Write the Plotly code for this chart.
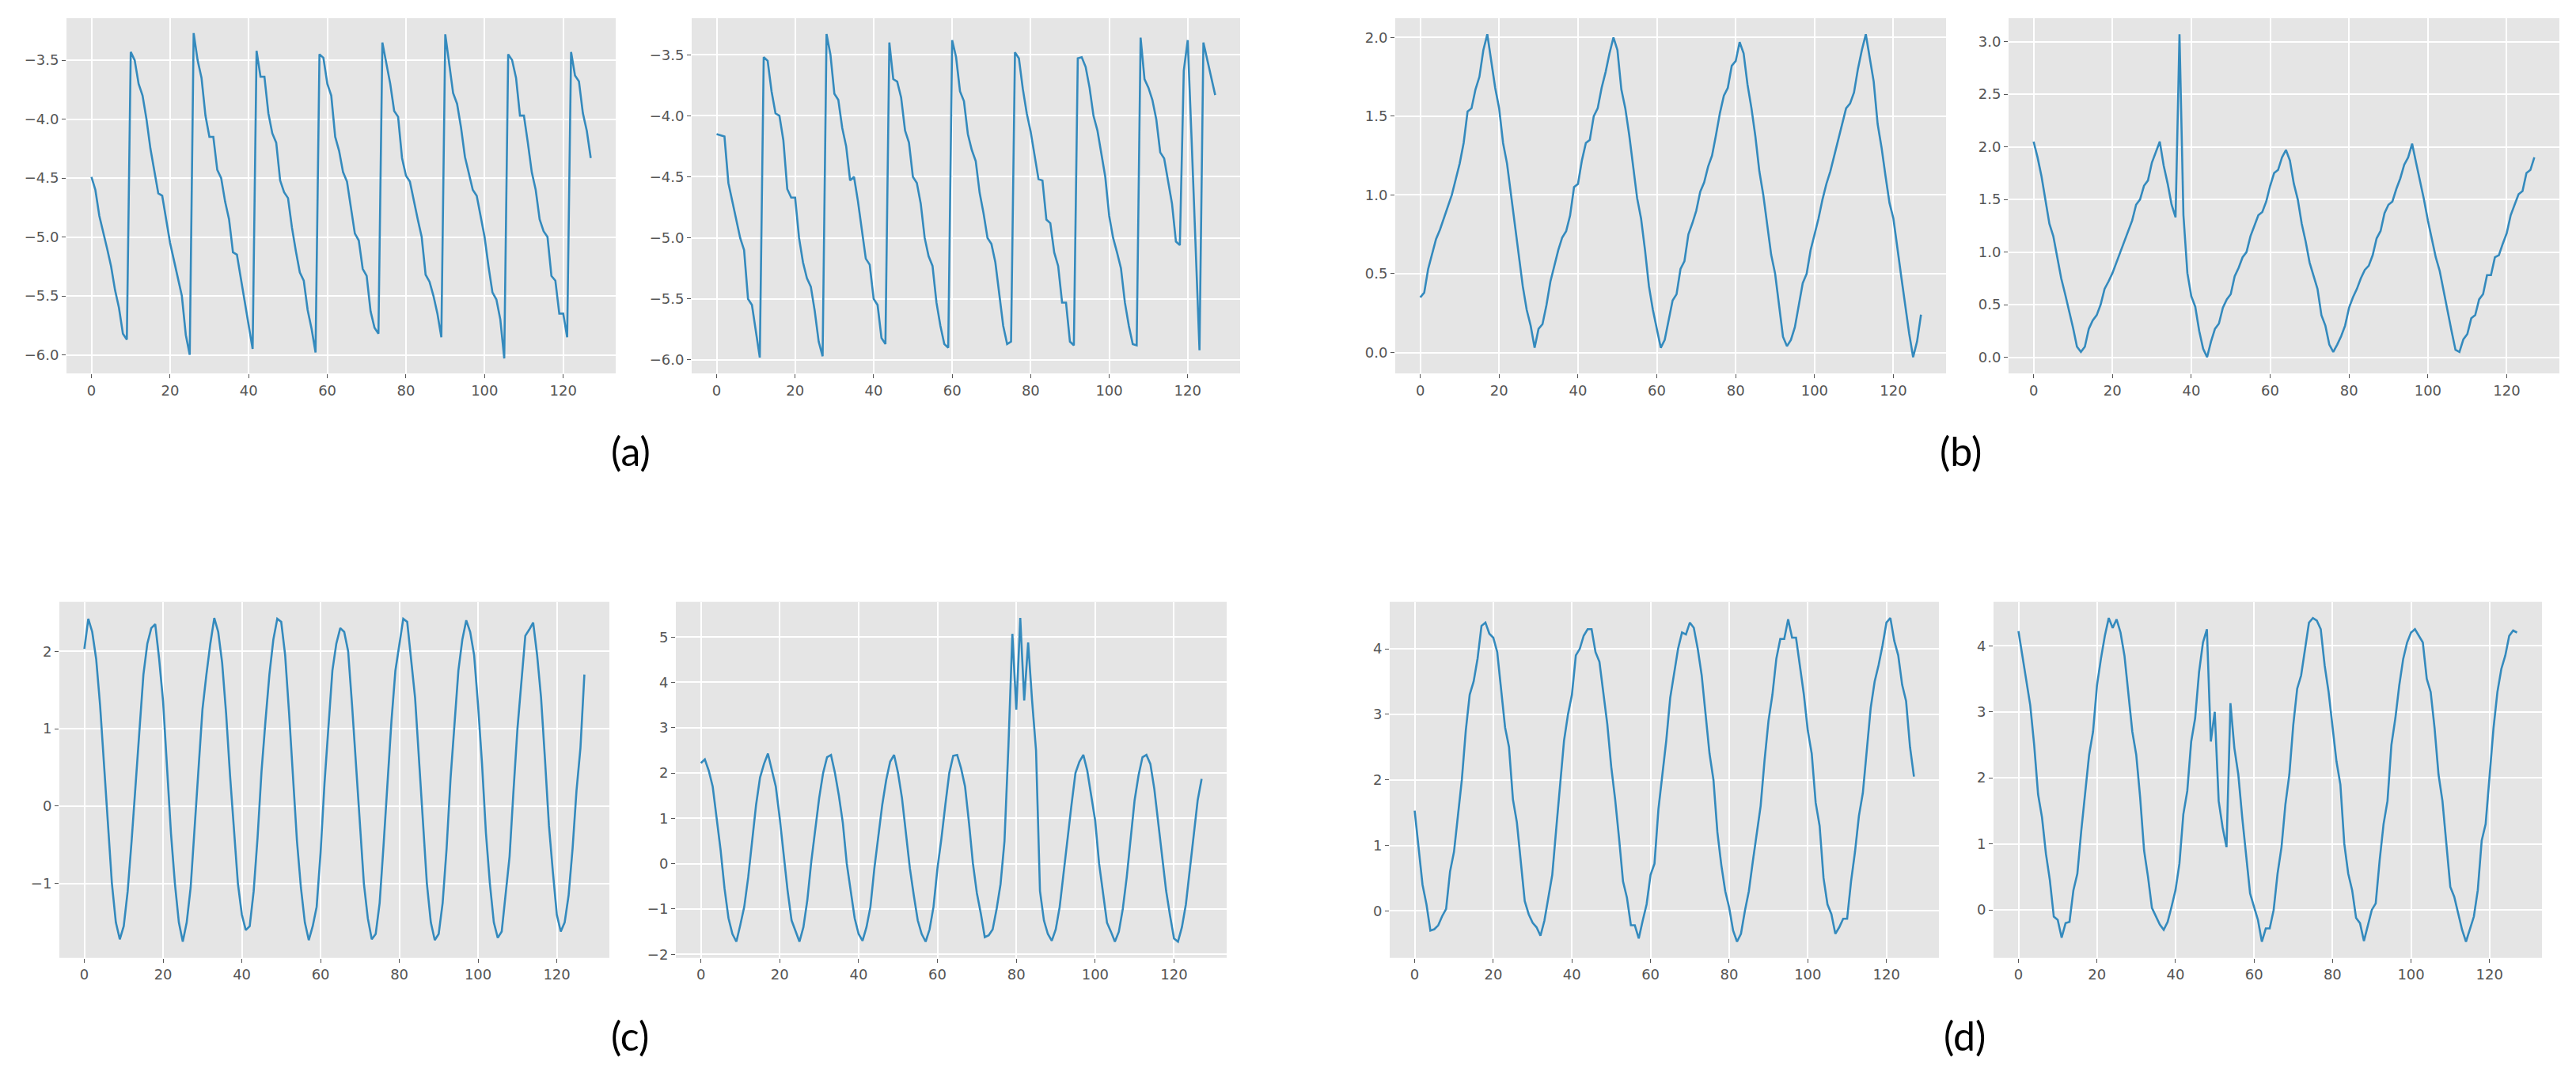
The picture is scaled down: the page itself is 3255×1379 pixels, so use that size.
import plotly.graph_objects as go

steps = list(range(128))

a_left = [-4.49, -4.6, -4.82, -4.95, -5.1, -5.25, -5.45, -5.6, -5.82, -5.87,
          -3.43, -3.5, -3.7, -3.8, -4.0, -4.25, -4.45, -4.63, -4.65, -4.85,
          -5.05, -5.2, -5.35, -5.5, -5.83, -6.0, -3.27, -3.5, -3.65, -3.97,
          -4.15, -4.15, -4.43, -4.5, -4.7, -4.85, -5.13, -5.15, -5.35, -5.55,
          -5.72, -5.95, -3.42, -3.64, -3.64, -3.95, -4.12, -4.2, -4.52, -4.62,
          -4.67, -4.92, -5.12, -5.3, -5.37, -5.62, -5.78, -5.98, -3.45, -3.48,
          -3.7, -3.8, -4.15, -4.27, -4.45, -4.53, -4.75, -4.97, -5.03, -5.27,
          -5.33, -5.63, -5.77, -5.82, -3.35, -3.52, -3.7, -3.93, -3.98, -4.33,
          -4.48, -4.53, -4.7, -4.85, -5.0, -5.32, -5.38, -5.5, -5.65, -5.85,
          -3.28, -3.53, -3.78, -3.87, -4.07, -4.32, -4.45, -4.6, -4.65, -4.83,
          -5.0, -5.25, -5.47, -5.53, -5.7, -6.03, -3.45, -3.5, -3.65, -3.97,
          -3.97, -4.2, -4.45, -4.6, -4.85, -4.95, -5.0, -5.33, -5.37, -5.65,
          -5.65, -5.85, -3.43, -3.63, -3.68, -3.95, -4.1, -4.33]

a_right = [-4.15, -4.16, -4.17, -4.55, -4.7, -4.85, -5.0, -5.1, -5.5, -5.55,
           -5.75, -5.98, -3.52, -3.55, -3.8, -3.98, -4.0, -4.2, -4.6, -4.67,
           -4.67, -5.0, -5.2, -5.33, -5.4, -5.6, -5.85, -5.97, -3.33, -3.5,
           -3.82, -3.87, -4.1, -4.25, -4.53, -4.5, -4.7, -4.95, -5.17, -5.22,
           -5.5, -5.55, -5.82, -5.87, -3.4, -3.7, -3.72, -3.85, -4.12, -4.22,
           -4.5, -4.55, -4.72, -5.0, -5.15, -5.23, -5.53, -5.72, -5.87, -5.9,
           -3.38, -3.52, -3.8, -3.88, -4.15, -4.28, -4.37, -4.63, -4.8, -5.0,
           -5.05, -5.2, -5.47, -5.72, -5.87, -5.85, -3.48, -3.53, -3.78, -3.98,
           -4.13, -4.33, -4.52, -4.53, -4.85, -4.88, -5.12, -5.23, -5.53, -5.53,
           -5.85, -5.88, -3.53, -3.52, -3.6, -3.77, -4.0, -4.12, -4.3, -4.5,
           -4.82, -5.0, -5.12, -5.25, -5.53, -5.72, -5.87, -5.88, -3.36, -3.7,
           -3.77, -3.87, -4.03, -4.3, -4.35, -4.55, -4.72, -5.03, -5.06, -3.63,
           -3.38, -4.2, -5.1, -5.92, -3.4, -3.55, -3.7, -3.83]

b_left = [0.35, 0.38, 0.53, 0.63, 0.72, 0.78, 0.85, 0.93, 1.0, 1.1,
          1.2, 1.33, 1.53, 1.55, 1.67, 1.75, 1.92, 2.02, 1.85, 1.68,
          1.55, 1.33, 1.2, 1.0, 0.8, 0.6, 0.42, 0.27, 0.17, 0.03,
          0.15, 0.18, 0.3, 0.45, 0.55, 0.65, 0.73, 0.77, 0.87, 1.05,
          1.07, 1.22, 1.33, 1.35, 1.5, 1.55, 1.68, 1.78, 1.9, 2.0,
          1.92, 1.67, 1.55, 1.38, 1.18, 0.98, 0.85, 0.65, 0.42, 0.27,
          0.15, 0.03, 0.08, 0.2, 0.33, 0.37, 0.53, 0.58, 0.75, 0.82,
          0.9, 1.02, 1.08, 1.18, 1.25, 1.38, 1.52, 1.63, 1.68, 1.82,
          1.85, 1.97, 1.9, 1.7, 1.55, 1.37, 1.15, 1.0, 0.82, 0.62,
          0.5, 0.3, 0.1, 0.04, 0.08, 0.16, 0.3, 0.44, 0.5, 0.65,
          0.75, 0.85, 0.97, 1.07, 1.15, 1.25, 1.35, 1.45, 1.55, 1.58,
          1.65, 1.8, 1.92, 2.02, 1.88, 1.72, 1.45, 1.3, 1.12, 0.95,
          0.85, 0.65, 0.48, 0.3, 0.12, -0.03, 0.07, 0.24]

b_right = [2.05, 1.9, 1.72, 1.48, 1.27, 1.15, 0.95, 0.75, 0.6, 0.45,
           0.28, 0.1, 0.05, 0.1, 0.27, 0.35, 0.4, 0.5, 0.65, 0.72,
           0.8, 0.9, 1.0, 1.1, 1.2, 1.3, 1.45, 1.5, 1.63, 1.68,
           1.85, 1.95, 2.05, 1.82, 1.65, 1.45, 1.33, 3.07, 1.35, 0.8,
           0.58, 0.48, 0.25, 0.08, 0.0, 0.15, 0.27, 0.32, 0.47, 0.55,
           0.6, 0.77, 0.85, 0.95, 1.0, 1.15, 1.25, 1.35, 1.38, 1.48,
           1.63, 1.75, 1.78, 1.9, 1.97, 1.87, 1.65, 1.5, 1.27, 1.1,
           0.9, 0.78, 0.65, 0.4, 0.3, 0.12, 0.05, 0.12, 0.2, 0.3,
           0.47, 0.57, 0.65, 0.75, 0.83, 0.87, 0.97, 1.13, 1.2, 1.37,
           1.45, 1.48, 1.6, 1.7, 1.83, 1.9, 2.03, 1.85, 1.68, 1.5,
           1.3, 1.12, 0.95, 0.82, 0.62, 0.45, 0.25, 0.07, 0.05, 0.17,
           0.22, 0.37, 0.4, 0.55, 0.6, 0.78, 0.78, 0.95, 0.97, 1.08,
           1.18, 1.35, 1.45, 1.55, 1.58, 1.75, 1.78, 1.9]

c_left = [2.03, 2.42, 2.25, 1.9, 1.3, 0.5, -0.3, -1.0, -1.5, -1.72,
          -1.55, -1.1, -0.45, 0.3, 1.05, 1.7, 2.1, 2.3, 2.35, 1.9,
          1.35, 0.5, -0.35, -1.0, -1.5, -1.75, -1.5, -1.05, -0.3, 0.5,
          1.25, 1.7, 2.1, 2.43, 2.25, 1.85, 1.2, 0.4, -0.35, -1.0,
          -1.4, -1.6, -1.55, -1.1, -0.4, 0.45, 1.1, 1.7, 2.15, 2.42,
          2.38, 1.95, 1.2, 0.4, -0.45, -1.05, -1.5, -1.73, -1.55, -1.3,
          -0.6, 0.3, 1.05, 1.75, 2.1, 2.3, 2.25, 2.0, 1.3, 0.5,
          -0.3, -1.0, -1.45, -1.72, -1.65, -1.25, -0.5, 0.3, 1.1, 1.75,
          2.1, 2.42, 2.38, 1.9, 1.4, 0.6, -0.25, -1.0, -1.5, -1.73,
          -1.65, -1.25, -0.55, 0.35, 1.05, 1.75, 2.15, 2.4, 2.25, 1.95,
          1.3, 0.55, -0.35, -1.0, -1.5, -1.7, -1.62, -1.15, -0.65, 0.2,
          1.0, 1.6, 2.2, 2.28, 2.37, 1.95, 1.4, 0.6, -0.25, -0.85,
          -1.4, -1.62, -1.5, -1.15, -0.55, 0.2, 0.75, 1.7]

c_right = [2.22, 2.3, 2.05, 1.7, 1.0, 0.3, -0.55, -1.2, -1.55, -1.72,
           -1.35, -0.95, -0.3, 0.5, 1.3, 1.9, 2.2, 2.43, 2.05, 1.7,
           1.0, 0.2, -0.6, -1.25, -1.5, -1.72, -1.4, -0.8, 0.05, 0.8,
           1.45, 2.0, 2.35, 2.4, 2.0, 1.5, 0.9, 0.0, -0.6, -1.2,
           -1.55, -1.7, -1.4, -0.95, -0.1, 0.6, 1.3, 1.85, 2.25, 2.4,
           2.0, 1.45, 0.7, -0.1, -0.7, -1.25, -1.55, -1.72, -1.45, -0.95,
           -0.1, 0.55, 1.3, 2.0, 2.38, 2.4, 2.1, 1.7, 0.9, 0.0,
           -0.65, -1.1, -1.62, -1.58, -1.45, -1.0, -0.45, 0.5, 2.6, 5.07,
           3.4, 5.42, 3.6, 4.88, 3.6, 2.5, -0.6, -1.25, -1.55, -1.7,
           -1.45, -0.95, -0.2, 0.6, 1.3, 2.0, 2.25, 2.4, 2.05, 1.5,
           0.95, 0.0, -0.65, -1.3, -1.5, -1.72, -1.5, -1.0, -0.3, 0.5,
           1.4, 1.95, 2.35, 2.4, 2.2, 1.65, 0.9, 0.1, -0.6, -1.15,
           -1.65, -1.72, -1.4, -0.9, -0.1, 0.7, 1.4, 1.87]

d_left = [1.53, 1.0, 0.4, 0.1, -0.3, -0.28, -0.22, -0.08, 0.03, 0.6,
          0.9, 1.45, 2.0, 2.75, 3.3, 3.5, 3.85, 4.35, 4.4, 4.23,
          4.17, 3.95, 3.4, 2.8, 2.5, 1.7, 1.35, 0.75, 0.15, -0.05,
          -0.18, -0.25, -0.38, -0.15, 0.2, 0.55, 1.25, 1.95, 2.6, 3.0,
          3.3, 3.9, 4.0, 4.2, 4.3, 4.3, 3.95, 3.8, 3.35, 2.85,
          2.2, 1.7, 1.1, 0.45, 0.2, -0.22, -0.22, -0.42, -0.15, 0.1,
          0.55, 0.72, 1.55, 2.1, 2.6, 3.25, 3.65, 4.0, 4.25, 4.22,
          4.4, 4.32, 4.0, 3.6, 3.0, 2.4, 2.0, 1.2, 0.7, 0.3,
          0.05, -0.3, -0.47, -0.35, 0.0, 0.3, 0.75, 1.2, 1.6, 2.3,
          2.9, 3.3, 3.85, 4.15, 4.15, 4.45, 4.17, 4.17, 3.75, 3.3,
          2.75, 2.4, 1.65, 1.3, 0.5, 0.1, -0.05, -0.35, -0.25, -0.12,
          -0.12, 0.45, 0.9, 1.45, 1.8, 2.5, 3.1, 3.5, 3.75, 4.05,
          4.4, 4.47, 4.12, 3.9, 3.45, 3.2, 2.5, 2.05]

d_right = [4.22, 3.85, 3.5, 3.1, 2.5, 1.75, 1.4, 0.85, 0.45, -0.1,
           -0.15, -0.42, -0.2, -0.18, 0.3, 0.55, 1.2, 1.75, 2.35, 2.7,
           3.4, 3.8, 4.15, 4.42, 4.27, 4.4, 4.2, 3.85, 3.25, 2.7,
           2.35, 1.7, 0.9, 0.5, 0.03, -0.1, -0.22, -0.3, -0.18, 0.05,
           0.3, 0.7, 1.45, 1.8, 2.55, 2.9, 3.6, 4.05, 4.25, 2.55,
           3.0, 1.65, 1.25, 0.95, 3.13, 2.45, 2.05, 1.4, 0.85, 0.25,
           0.05, -0.15, -0.48, -0.28, -0.28, 0.0, 0.55, 0.95, 1.6, 2.05,
           2.8, 3.35, 3.55, 3.95, 4.35, 4.42, 4.38, 4.25, 3.7, 3.3,
           2.75, 2.25, 1.9, 1.0, 0.55, 0.3, -0.12, -0.2, -0.47, -0.25,
           0.0, 0.1, 0.75, 1.3, 1.65, 2.5, 2.9, 3.4, 3.8, 4.05,
           4.2, 4.25, 4.15, 4.05, 3.5, 3.3, 2.75, 2.05, 1.65, 1.0,
           0.35, 0.2, -0.05, -0.3, -0.48, -0.3, -0.1, 0.3, 1.05, 1.3,
           2.0, 2.75, 3.3, 3.65, 3.85, 4.15, 4.23, 4.2]

x_ticks = [0, 20, 40, 60, 80, 100, 120]
x_tick_text = ["0", "20", "40", "60", "80", "100", "120"]

a_ticks = [-6.0, -5.5, -5.0, -4.5, -4.0, -3.5]
a_tick_text = ["\u22126.0", "\u22125.5", "\u22125.0", "\u22124.5", "\u22124.0", "\u22123.5"]
b_left_ticks = [0.0, 0.5, 1.0, 1.5, 2.0]
b_left_text = ["0.0", "0.5", "1.0", "1.5", "2.0"]
b_right_ticks = [0.0, 0.5, 1.0, 1.5, 2.0, 2.5, 3.0]
b_right_text = ["0.0", "0.5", "1.0", "1.5", "2.0", "2.5", "3.0"]
c_left_ticks = [-1, 0, 1, 2]
c_left_text = ["\u22121", "0", "1", "2"]
c_right_ticks = [-2, -1, 0, 1, 2, 3, 4, 5]
c_right_text = ["\u22122", "\u22121", "0", "1", "2", "3", "4", "5"]
d_ticks = [0, 1, 2, 3, 4]
d_tick_text = ["0", "1", "2", "3", "4"]

panel_labels = ["(a)", "(b)", "(c)", "(d)"]

W, H = 3255, 1379

# (series, x-domain px, y-domain px, y-range, ticks, ticktext)
panels = [
    (a_left, (84, 778), (23, 474), (-6.157, -3.143), a_ticks, a_tick_text),
    (a_right, (874, 1567), (23, 474), (-6.11, -3.20), a_ticks, a_tick_text),
    (b_left, (1763, 2459), (23, 474), (-0.1325, 2.1225), b_left_ticks, b_left_text),
    (b_right, (2538, 3234), (23, 474), (-0.1535, 3.2235), b_right_ticks, b_right_text),
    (c_left, (75, 770), (764, 1216), (-1.959, 2.639), c_left_ticks, c_left_text),
    (c_right, (854, 1550), (764, 1216), (-2.077, 5.777), c_right_ticks, c_right_text),
    (d_left, (1756, 2450), (764, 1216), (-0.717, 4.717), d_ticks, d_tick_text),
    (d_right, (2519, 3212), (764, 1216), (-0.725, 4.665), d_ticks, d_tick_text),
]

fig = go.Figure()
layout = dict(
    width=W, height=H, margin=dict(l=0, r=0, t=0, b=0),
    paper_bgcolor="white", plot_bgcolor="#E5E5E5", showlegend=False,
)

tick_font = dict(family="DejaVu Sans", size=18, color="#555555")

for i, (ys, (x0, x1), (y0, y1), yr, yt, ytt) in enumerate(panels):
    n = i + 1
    xa = "x" if n == 1 else f"x{n}"
    ya = "y" if n == 1 else f"y{n}"
    fig.add_trace(go.Scatter(
        x=steps, y=ys, mode="lines", xaxis=xa, yaxis=ya,
        line=dict(color="#348ABD", width=2.6), hoverinfo="skip",
    ))
    common = dict(
        showgrid=True, gridcolor="white", gridwidth=1.6, zeroline=False,
        showline=False, ticks="outside", ticklen=5, tickwidth=1.2,
        tickcolor="#555555", tickfont=tick_font,
    )
    layout["xaxis" if n == 1 else f"xaxis{n}"] = dict(
        domain=[x0 / W, x1 / W], range=[-6.35, 133.35],
        anchor=ya, tickvals=x_ticks, ticktext=x_tick_text, **common,
    )
    layout["yaxis" if n == 1 else f"yaxis{n}"] = dict(
        domain=[1 - y1 / H, 1 - y0 / H], range=list(yr),
        anchor=xa, tickvals=yt, ticktext=ytt, **common,
    )

fig.update_layout(**layout)

label_pos = [(797, 572), (2477, 572), (796, 1315), (2482, 1315)]
for text, (px, py) in zip(panel_labels, label_pos):
    fig.add_annotation(
        x=px / W, y=1 - py / H, xref="paper", yref="paper",
        text=text, showarrow=False, xanchor="center", yanchor="middle",
        font=dict(family="Lato", size=50, color="black"),
    )

fig.write_html("out.html", config={"displayModeBar": False},
               post_script="document.body.style.margin='0';")
